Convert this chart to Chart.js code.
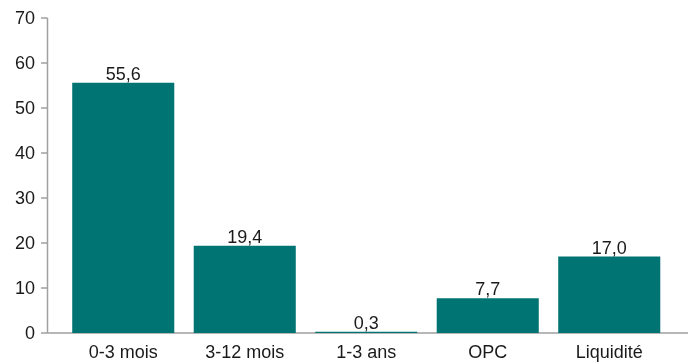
<!DOCTYPE html>
<html>
<head>
<meta charset="utf-8">
<script src="https://cdn.jsdelivr.net/npm/chart.js@4/dist/chart.umd.min.js"></script>
<style>
  html, body { margin: 0; padding: 0; background: #ffffff; }
  #wrap { width: 688px; height: 363px; position: relative; }
</style>
</head>
<body>
<div id="wrap"><canvas id="c" width="688" height="363"></canvas></div>
<script>
const categories = ['0-3 mois', '3-12 mois', '1-3 ans', 'OPC', 'Liquidité'];
const values = [55.6, 19.4, 0.3, 7.7, 17.0];
const yTicks = [0, 10, 20, 30, 40, 50, 60, 70];

const BAR = '#007473';
const AXIS = '#a0a0a0';
const TEXT = '#1a1a1a';
const FONT = '"Liberation Sans", Arial, sans-serif';

function fmt(v) { return v.toFixed(1).replace('.', ','); }

// Value axis line, tick marks and base line go under the bars;
// tick labels and bar value labels go on top.
const axesAndLabels = {
  id: 'axesAndLabels',
  beforeDatasetsDraw(chart) {
    const ctx = chart.ctx;
    const y = chart.scales.y;
    const axisX = 47.5;
    ctx.save();
    ctx.strokeStyle = AXIS;
    ctx.lineWidth = 1.5;
    ctx.beginPath();
    ctx.moveTo(axisX, y.getPixelForValue(yTicks[yTicks.length - 1]));
    ctx.lineTo(axisX, y.getPixelForValue(0));
    ctx.lineTo(chart.width, y.getPixelForValue(0));
    yTicks.forEach(t => {
      const py = y.getPixelForValue(t);
      ctx.moveTo(axisX - 6.5, py);
      ctx.lineTo(axisX, py);
    });
    ctx.stroke();
    ctx.restore();
  },
  afterDatasetsDraw(chart) {
    const ctx = chart.ctx;
    const y = chart.scales.y;
    ctx.save();
    ctx.fillStyle = TEXT;
    ctx.font = '18px ' + FONT;
    ctx.textAlign = 'right';
    ctx.textBaseline = 'middle';
    yTicks.forEach(t => {
      ctx.fillText(String(t), 35, y.getPixelForValue(t) + 1);
    });

    ctx.textAlign = 'center';
    ctx.textBaseline = 'alphabetic';
    const meta = chart.getDatasetMeta(0);
    meta.data.forEach((bar, i) => {
      ctx.fillText(fmt(values[i]), bar.x, bar.y - 3);
    });
    ctx.restore();
  }
};

new Chart(document.getElementById('c'), {
  type: 'bar',
  data: {
    labels: categories,
    datasets: [{
      data: values,
      backgroundColor: BAR,
      borderWidth: 0,
      categoryPercentage: 1.0,
      barPercentage: 0.84
    }]
  },
  options: {
    responsive: false,
    animation: false,
    devicePixelRatio: 1,
    layout: { padding: { left: 62.5, right: 18, top: 18, bottom: 0 } },
    plugins: { legend: { display: false }, tooltip: { enabled: false } },
    scales: {
      x: {
        grid: { display: false, drawTicks: false },
        border: { display: false },
        ticks: { color: TEXT, font: { family: FONT, size: 18 }, padding: 9, maxRotation: 0 },
        afterFit(scale) { scale.height = 30; }
      },
      y: {
        min: 0,
        max: 70,
        display: false,
        ticks: { stepSize: 10 }
      }
    }
  },
  plugins: [axesAndLabels]
});
</script>
</body>
</html>
